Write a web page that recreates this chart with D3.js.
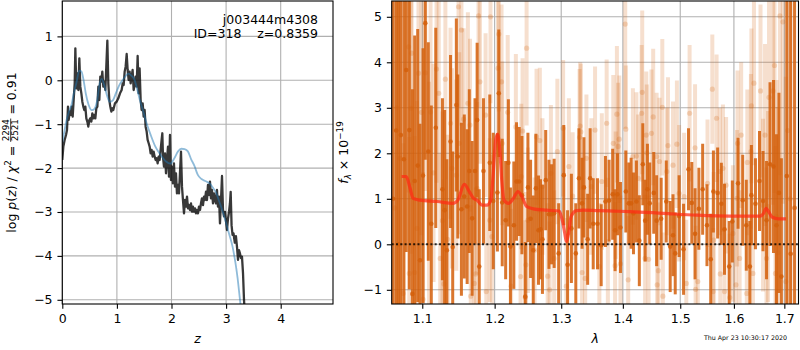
<!DOCTYPE html>
<html>
<head>
<meta charset="utf-8">
<script src="https://cdn.jsdelivr.net/npm/d3@7"></script>
<style>
  body { margin: 0; background: #fff; }
  svg { font-family: "DejaVu Sans", sans-serif; }
</style>
</head>
<body>
<svg id="fig" width="800" height="350"></svg>
<script>
// ---- p(z) panel data ----
const pzZ = [0.000,0.019,0.043,0.068,0.086,0.104,0.117,0.135,0.153,0.172,0.190,0.208,0.227,0.239,0.257,0.275,0.294,0.312,0.330,0.349,
  0.367,0.385,0.403,0.422,0.440,0.458,0.476,0.495,0.513,0.532,0.550,0.568,0.587,0.605,0.623,0.642,0.660,0.678,0.696,0.715,
  0.733,0.751,0.770,0.788,0.806,0.825,0.843,0.861,0.879,0.898,0.916,0.934,0.965,0.995,1.026,1.057,1.087,1.106,1.124,1.142,
  1.160,1.179,1.197,1.215,1.233,1.252,1.270,1.288,1.307,1.325,1.343,1.362,1.380,1.398,1.416,1.435,1.453,1.472,1.490,1.508,
  1.526,1.545,1.563,1.582,1.600,1.618,1.636,1.655,1.673,1.691,1.710,1.728,1.746,1.765,1.783,1.801,1.819,1.832,1.844,1.862,
  1.881,1.899,1.917,1.936,1.954,1.972,1.990,2.009,2.027,2.045,2.064,2.082,2.100,2.119,2.137,2.155,2.174,2.192,2.210,2.229,
  2.247,2.265,2.284,2.302,2.320,2.339,2.357,2.375,2.393,2.412,2.430,2.448,2.467,2.485,2.503,2.522,2.540,2.558,2.577,2.595,
  2.613,2.632,2.650,2.668,2.687,2.705,2.723,2.741,2.760,2.778,2.796,2.815,2.833,2.851,2.870,2.888,2.906,2.925,2.943,2.961,
  2.980,2.998,3.016,3.035,3.053,3.071,3.084,3.100,3.118,3.136,3.160,3.180,3.200,3.218,3.236,3.255,3.273,3.291,3.310,3.328,3.346];
const pzLog = [-1.815,-1.511,-1.359,-1.245,-1.131,-0.600,-0.904,-0.714,-0.790,-0.600,-0.828,-0.449,-0.069,0.728,-0.183,0.159,-0.221,0.500,-0.145,-0.297,
  -0.487,-0.600,-0.677,-0.600,-0.866,-0.942,-1.056,-0.904,-0.866,-0.942,-0.752,-0.866,-0.790,-0.866,-0.638,-0.600,-0.145,-0.449,0.083,-0.031,
  0.197,-0.145,-0.031,-0.221,0.311,0.903,-0.069,-0.449,-0.600,-0.714,-0.638,-0.677,-0.525,-0.487,-0.411,-0.297,-0.221,-0.069,-0.107,0.197,
  0.311,0.599,0.235,0.007,0.197,-0.069,0.083,0.235,-0.221,-0.107,0.083,-0.145,0.554,-0.297,0.273,-0.449,-0.677,-0.525,-0.828,-0.677,
  -1.056,-1.169,-1.359,-1.435,-1.511,-1.663,-1.587,-1.739,-1.625,-1.739,-1.815,-1.777,-1.891,-1.739,-1.815,-1.587,-1.359,-1.207,-1.739,-1.967,
  -1.663,-2.119,-1.815,-1.511,-2.195,-1.245,-2.271,-1.967,-2.347,-1.891,-2.423,-2.119,-2.575,-2.385,-2.575,-2.119,-1.625,-2.423,-2.727,-3.030,
  -2.727,-2.879,-2.651,-2.917,-2.841,-2.955,-2.803,-2.993,-2.879,-2.993,-2.917,-3.030,-2.955,-3.030,-2.879,-2.955,-2.803,-2.689,-2.841,-2.651,
  -2.727,-2.537,-2.727,-2.385,-2.613,-2.309,-2.689,-2.499,-2.803,-2.575,-2.727,-2.803,-2.499,-2.880,-2.650,-3.260,-2.750,-2.180,-2.950,-3.100,
  -3.000,-3.200,-3.410,-3.150,-3.000,-2.800,-2.540,-3.300,-3.520,-3.490,-3.700,-3.550,-3.800,-4.090,-3.870,-3.950,-4.050,-4.020,-4.400,-5.000,-5.400];
const smZ = [0,0.04,0.08,0.12,0.17,0.21,0.26,0.31,0.35,0.39,0.43,0.48,0.54,0.59,0.64,0.68,0.72,0.77,0.82,0.87,
  0.93,0.98,1.04,1.09,1.15,1.21,1.27,1.32,1.37,1.42,1.48,1.55,1.62,1.70,1.80,1.90,1.98,2.05,2.12,2.18,
  2.24,2.30,2.36,2.42,2.48,2.55,2.63,2.70,2.76,2.82,2.88,2.94,3.00,3.06,3.12,3.17,3.21,3.25,3.28];
const smLog = [-1.42,-1.15,-0.90,-0.72,-0.55,-0.30,-0.05,0.22,0.20,0.00,-0.30,-0.55,-0.68,-0.65,-0.45,-0.10,0.03,-0.12,-0.35,-0.49,
  -0.45,-0.30,-0.12,-0.02,0.08,0.15,0.10,0.02,-0.20,-0.45,-0.70,-1.00,-1.25,-1.50,-1.70,-1.85,-1.90,-1.78,-1.62,-1.56,
  -1.57,-1.62,-1.80,-1.95,-2.15,-2.25,-2.30,-2.35,-2.45,-2.57,-2.78,-3.00,-3.25,-3.52,-3.80,-4.15,-4.50,-4.95,-5.30];
const pzXTicks = [0, 1, 2, 3, 4];
const pzYTicks = [-5, -4, -3, -2, -1, 0, 1];

// ---- spectrum panel data ----
const darkLam = [1.062,1.066,1.069,1.072,1.076,1.079,1.083,1.087,1.090,1.094,1.097,1.101,1.104,1.108,1.112,1.118,1.127,1.130,1.133,1.138,
  1.141,1.146,1.148,1.153,1.157,1.161,1.164,1.168,1.172,1.175,1.178,1.184,1.193,1.198,
  1.204,1.206,1.211,1.216,1.220,1.223,1.228,1.232,1.236,1.240,1.245,1.249,1.253,1.257,1.261,1.265,1.268,1.271,1.276,1.281,
  1.285,1.289,1.296,1.304,1.310,1.316,1.323,1.328,1.333,1.336,1.342,1.346,1.351,
  1.358,1.364,1.371,1.377,1.383,1.387,1.391,1.396,1.405,1.410,1.414,1.418,1.423,1.428,1.434,1.438,1.442,1.446,1.453,1.458,
  1.466,1.475,1.482,1.487,1.491,1.498,1.506,1.515,1.521,1.527,1.534,
  1.541,1.549,1.556,1.561,1.569,1.576,1.582,1.591,1.597,1.608,1.617,1.624,1.631,1.634,1.642,1.650,1.657,1.664,1.671,1.678,
  1.684,1.689,1.694,1.705,1.713,1.721];
const darkFlux = [1.0,2.5,0.0,2.40,1.87,3.83,2.51,-1.09,1.39,1.73,-0.35,1.51,4.86,2.04,0.45,2.56,1.21,0.75,-0.13,2.26,
  -0.06,3.06,1.93,0.77,1.05,0.83,1.61,0.57,1.61,2.73,-0.49,1.61,1.79,0.95,
  1.14,3.32,0.92,0.53,1.79,-0.05,0.42,1.38,1.38,1.08,-1.15,1.25,0.56,-0.13,1.23,0.31,0.33,0.11,1.41,0.66,
  0.66,0.68,-0.20,1.52,-0.45,0.35,-0.20,1.45,0.90,1.25,0.11,1.45,0.45,
  0.45,-0.02,0.94,0.96,1.10,0.31,1.10,0.37,1.16,0.90,0.90,0.68,0.94,0.08,1.76,0.52,1.21,0.90,1.13,0.52,
  0.56,0.94,-0.05,0.20,-0.20,0.62,-0.11,1.65,0.91,0.23,0.78,
  1.21,0.42,-0.33,1.16,1.13,0.89,0.33,-0.49,0.50,1.34,0.97,0.42,-0.49,1.08,0.89,1.39,0.95,0.53,1.76,1.71,
  0.42,1.13,-0.71,1.5,-0.21,0.8];
const darkErr = [9,7,8,4.5,4.0,4.0,3.5,4.5,3.2,3.0,3.0,2.8,3.0,2.4,2.6,2.2,2.0,2.2,2.0,1.9,
  2.1,1.9,1.8,1.9,1.8,1.7,1.8,1.7,1.6,1.7,1.7,1.6,1.5,1.5,
  1.3,1.4,1.4,1.3,1.4,1.3,1.4,1.3,1.2,1.3,1.2,1.2,1.3,1.2,1.2,1.2,1.1,1.2,1.1,1.2,
  1.1,1.2,1.1,1.1,1.2,1.2,1.1,1.1,1.0,1.1,1.0,1.1,1.0,
  1.0,0.9,1.0,0.9,1.0,0.9,0.9,1.0,0.9,0.9,1.0,0.9,0.9,1.0,0.9,0.9,1.0,0.9,0.9,1.0,
  0.9,0.9,1.0,0.9,0.9,0.9,1.0,0.9,0.9,1.0,0.9,
  1.0,0.9,1.0,0.9,1.0,0.9,1.0,1.0,0.9,1.0,1.0,1.0,1.0,1.1,1.0,1.1,1.1,1.3,1.8,1.9,
  2.0,2.2,2.6,8,7,8];

const lightLam = [1.064,1.067,1.071,1.075,1.082,1.083,1.085,1.086,1.090,1.093,1.095,1.099,1.101,1.104,1.109,1.111,1.115,1.119,1.122,1.124,
  1.127,1.129,1.131,1.134,1.138,1.140,1.146,1.149,1.150,1.153,1.156,1.162,1.165,1.166,1.171,1.173,1.175,1.177,1.179,1.187,
  1.188,1.193,1.194,1.196,1.205,1.206,1.210,1.211,1.219,1.224,1.231,1.238,1.239,1.241,1.245,1.246,1.247,1.249,1.259,1.262,
  1.267,1.271,1.279,1.282,1.284,1.289,1.294,1.303,1.308,1.312,1.318,1.329,1.330,1.331,1.333,1.338,1.340,1.348,1.354,1.361,
  1.365,1.373,1.375,1.384,1.387,1.388,1.390,1.392,1.394,1.396,1.404,1.405,1.409,1.417,1.423,1.426,1.432,1.433,1.438,1.440,
  1.441,1.444,1.449,1.452,1.458,1.459,1.461,1.463,1.468,1.469,1.476,1.478,1.487,1.494,1.498,1.507,1.511,1.517,1.527,1.528,
  1.532,1.550,1.559,1.5605,1.5615,1.567,1.573,1.574,1.579,1.582,1.585,1.592,1.598,1.604,1.606,1.607,1.611,1.614,1.625,1.626,
  1.633,1.634,1.637,1.639,1.652,1.657,1.661,1.664,1.667,1.669,1.677,1.680,1.682,1.684,1.687,1.691,1.697,1.703,1.707,1.712];
const lightFlux = [0.8,3.0,1.89,-1.08,4.34,-0.64,2.99,4.2,-0.62,0.35,3.76,2.9,-1.21,3.77,0.97,2.91,1.57,3.85,3.32,-0.31,
  0.52,-0.87,3.63,0.11,2.66,1.67,1.52,5.22,2.22,4.71,2.75,3.1,2.62,-1.14,-0.86,-0.65,1.23,5.02,3.57,2.84,
  -1.04,0.53,5.0,0.17,3.87,4.62,3.57,2.22,2.9,-0.92,2.58,-0.71,1.49,2.49,-1.17,-0.45,4.31,0.53,-0.13,2.36,
  2.28,1.27,-0.7,-1.0,1.56,-0.31,2.04,2.55,-0.92,1.71,1.06,2.35,2.6,2.47,-0.62,-0.75,1.89,1.27,2.51,-0.49,
  1.38,2.66,0.06,2.22,-0.47,1.08,2.86,2.15,2.31,-0.43,4.84,2.53,-0.78,1.93,1.94,1.45,2.88,3.34,-0.31,2.4,
  2.01,-0.33,2.44,2.8,1.93,-0.89,-0.58,1.82,3.01,-1.14,1.6,2.17,1.74,2.2,1.12,1.05,-0.86,2.88,2.12,-0.99,
  -0.82,1.34,3.41,-1.04,0.09,2.77,1.6,-0.65,1.67,-1.04,1.3,-1.17,0.24,-0.89,1.01,2.22,-0.31,2.4,-1.08,1.8,
  2.04,3.04,-0.64,3.54,3.37,0.86,2.4,-0.31,0.83,3.23,3.37,3.93,-0.64,0.61,-0.18,5.02,4.89,-0.82,2.5,1.0];
const lightErr = [6,6,3.5,3.3,3.2,3.0,3.2,2.9,3.0,2.8,2.8,2.7,2.8,2.6,2.6,2.5,2.4,2.5,2.4,2.3,
  2.4,2.3,2.2,2.3,2.1,2.2,2.1,2.2,2.0,2.1,2.0,2.0,1.9,2.0,1.9,1.9,1.9,2.0,1.8,1.8,
  1.9,1.8,1.9,1.8,1.8,1.7,1.7,1.8,1.7,1.7,1.6,1.7,1.6,1.6,1.7,1.6,1.7,1.6,1.6,1.5,
  1.6,1.5,1.6,1.5,1.5,1.5,1.6,1.5,1.5,1.5,1.4,1.5,1.4,1.5,1.4,1.5,1.4,1.5,1.4,1.4,
  1.5,1.4,1.4,1.5,1.4,1.4,1.5,1.4,1.4,1.5,2.3,1.4,1.4,1.5,1.4,1.4,1.5,1.8,1.4,1.4,
  1.5,1.4,1.4,1.5,1.4,1.4,1.5,1.4,1.5,1.4,1.4,1.5,1.4,1.4,1.5,1.4,1.4,1.5,1.4,1.4,
  1.5,1.4,1.2,1.4,1.5,1.4,1.4,1.5,1.4,1.4,1.5,1.4,1.5,1.5,1.5,1.6,1.5,1.6,1.6,1.6,
  1.7,1.7,1.7,1.8,1.9,1.9,2.0,2.0,2.1,2.2,2.5,2.8,2.8,3.0,3.2,3.5,4,4.5,6,7];

const modelLam = [1.073,1.079,1.084,1.088,1.097,1.120,1.141,1.148,1.157,1.164,1.170,1.175,1.182,1.189,1.1945,1.198,1.2015,1.2044,1.2078,1.2103,
  1.2137,1.220,1.2274,1.234,1.240,1.247,1.257,1.277,1.297,1.3016,1.3056,1.3082,1.3115,1.3155,1.324,1.335,1.357,1.384,1.412,1.470,
  1.530,1.592,1.651,1.658,1.663,1.668,1.675,1.688,1.7035];
const modelFlux = [1.49,1.49,1.23,1.01,0.97,0.94,0.90,0.97,1.32,1.16,1.01,0.97,0.86,0.86,0.97,1.56,2.29,2.42,2.0,1.41,
  0.97,0.90,1.01,1.16,1.05,0.83,0.78,0.75,0.73,0.53,0.24,0.06,0.24,0.61,0.74,0.75,0.74,0.73,0.72,0.68,
  0.64,0.62,0.62,0.68,0.79,0.72,0.60,0.56,0.56];
const spXTicks = [1.1, 1.2, 1.3, 1.4, 1.5, 1.6, 1.7];
const spYTicks = [-1, 0, 1, 2, 3, 4, 5];

const objName = "j003444m4308";
const objInfo = "ID=318    z=0.8359";
const stamp = "Thu Apr 23 10:30:17 2020";

// ---- layout ----
const svg = d3.select('#fig');
const fs = 12.5;
const tick = 4.86;
const pzBox = { left: 62.3, right: 333, top: 1, bottom: 304 };
const spBox = { left: 391.7, right: 798.5, top: 1, bottom: 304 };

const xz = d3.scaleLinear().domain([0, 4.958]).range([pzBox.left, pzBox.right]);
const yz = d3.scaleLinear().domain([-5.096, 1.806]).range([pzBox.bottom, pzBox.top]);
const xl = d3.scaleLog().domain([1.0603, 1.7292]).range([spBox.left, spBox.right]);
const yf = d3.scaleLinear().domain([-1.312, 5.347]).range([spBox.bottom, spBox.top]);

function clip(id, box) {
  svg.append('clipPath').attr('id', id).append('rect')
    .attr('x', box.left).attr('y', box.top)
    .attr('width', box.right - box.left).attr('height', box.bottom - box.top);
}
clip('clipPz', pzBox);
clip('clipSp', spBox);

function grid(box, x, y, xt, yt) {
  const g = svg.append('g').attr('stroke', '#b0b0b0').attr('stroke-width', 1.1);
  g.selectAll('.gx').data(xt).join('line')
    .attr('x1', d => x(d)).attr('x2', d => x(d)).attr('y1', box.top).attr('y2', box.bottom);
  g.selectAll('.gy').data(yt).join('line')
    .attr('y1', d => y(d)).attr('y2', d => y(d)).attr('x1', box.left).attr('x2', box.right);
}

function axes(box, x, y, xt, yt, xfmt) {
  const ax = svg.append('g').attr('transform', `translate(0,${box.bottom})`)
    .call(d3.axisBottom(x).tickValues(xt).tickFormat(xfmt).tickSize(tick).tickPadding(4.86).tickSizeOuter(0));
  const ay = svg.append('g').attr('transform', `translate(${box.left},0)`)
    .call(d3.axisLeft(y).tickValues(yt).tickFormat(d3.format('d')).tickSize(tick).tickPadding(4.86).tickSizeOuter(0));
  [ax, ay].forEach(a => {
    a.select('.domain').remove();
    a.attr('font-family', null).attr('font-size', null);
    a.selectAll('line').attr('stroke', '#000').attr('stroke-width', 1.1);
    a.selectAll('text').attr('fill', '#000').style('font-size', fs + 'px');
  });
  svg.append('rect').attr('x', box.left).attr('y', box.top)
    .attr('width', box.right - box.left).attr('height', box.bottom - box.top)
    .attr('fill', 'none').attr('stroke', '#000').attr('stroke-width', 1.1);
}

// ---- left panel: p(z) ----
grid(pzBox, xz, yz, pzXTicks, pzYTicks);
const pzG = svg.append('g').attr('clip-path', 'url(#clipPz)');
const pzLine = d3.line().x((d, i) => xz(pzZ[i])).y(d => yz(d));
pzG.append('path').attr('d', pzLine(pzLog))
  .attr('fill', 'none').attr('stroke', '#000').attr('stroke-opacity', 0.78)
  .attr('stroke-width', 2.3).attr('stroke-linejoin', 'round');
const smLine = d3.line().x((d, i) => xz(smZ[i])).y(d => yz(d)).curve(d3.curveMonotoneX);
pzG.append('path').attr('d', smLine(smLog))
  .attr('fill', 'none').attr('stroke', '#1f77b4').attr('stroke-opacity', 0.5)
  .attr('stroke-width', 1.8);
axes(pzBox, xz, yz, pzXTicks, pzYTicks, d3.format('d'));

svg.append('text').attr('x', 318).attr('y', 24).attr('text-anchor', 'end')
  .style('font-size', fs + 'px').text(objName);
svg.append('text').attr('x', 318).attr('y', 38).attr('text-anchor', 'end')
  .style('font-size', fs + 'px').style('white-space', 'pre').text(objInfo);

// ---- right panel: spectrum ----
grid(spBox, xl, yf, spXTicks, spYTicks);
const spG = svg.append('g').attr('clip-path', 'url(#clipSp)');
const orange = '#d35f0a';

const lightIdx = d3.range(lightLam.length);
spG.append('g').selectAll('line').data(lightIdx).join('line')
  .attr('x1', i => xl(lightLam[i])).attr('x2', i => xl(lightLam[i]))
  .attr('y1', i => yf(lightFlux[i] - lightErr[i])).attr('y2', i => yf(lightFlux[i] + lightErr[i]))
  .attr('stroke', orange).attr('stroke-opacity', 0.2).attr('stroke-width', 4);
spG.append('g').selectAll('circle').data(lightIdx).join('circle')
  .attr('cx', i => xl(lightLam[i])).attr('cy', i => yf(lightFlux[i])).attr('r', 2.6)
  .attr('fill', orange).attr('fill-opacity', 0.22);

const darkIdx = d3.range(darkLam.length);
spG.append('g').selectAll('line').data(darkIdx).join('line')
  .attr('x1', i => xl(darkLam[i])).attr('x2', i => xl(darkLam[i]))
  .attr('y1', i => yf(darkFlux[i] - darkErr[i])).attr('y2', i => yf(darkFlux[i] + darkErr[i]))
  .attr('stroke', orange).attr('stroke-opacity', 0.85).attr('stroke-width', 3);
spG.append('g').selectAll('circle').data(darkIdx).join('circle')
  .attr('cx', i => xl(darkLam[i])).attr('cy', i => yf(darkFlux[i])).attr('r', 2.3)
  .attr('fill', orange).attr('fill-opacity', 0.85);

const modelLine = d3.line().x((d, i) => xl(modelLam[i])).y(d => yf(d)).curve(d3.curveMonotoneX);
spG.append('path').attr('d', modelLine(modelFlux))
  .attr('fill', 'none').attr('stroke', '#ff2a14').attr('stroke-opacity', 0.72)
  .attr('stroke-width', 3.2).attr('stroke-linejoin', 'round');

spG.append('line').attr('x1', spBox.left).attr('x2', spBox.right)
  .attr('y1', yf(0)).attr('y2', yf(0))
  .attr('stroke', '#000').attr('stroke-opacity', 0.8).attr('stroke-width', 2)
  .attr('stroke-dasharray', '2,2.3');

axes(spBox, xl, yf, spXTicks, spYTicks, d3.format('.1f'));

// ---- axis labels (mathtext-like) ----
function mathText(g, pieces) {
  let x = 0;
  pieces.forEach(p => {
    if (p.frac) {
      const sz = fs * 0.7;
      const num = g.append('text').style('font-size', sz + 'px').text(p.frac[0]);
      const den = g.append('text').style('font-size', sz + 'px').text(p.frac[1]);
      const w = Math.max(num.node().getComputedTextLength(), den.node().getComputedTextLength()) + 1;
      num.attr('x', x + w / 2).attr('y', -6.2).attr('text-anchor', 'middle');
      den.attr('x', x + w / 2).attr('y', 2.6).attr('text-anchor', 'middle');
      g.append('line').attr('x1', x).attr('x2', x + w).attr('y1', -4.8).attr('y2', -4.8)
        .attr('stroke', '#000').attr('stroke-width', 0.8);
      x += w;
    } else {
      const t = g.append('text').attr('x', x).attr('y', p.dy || 0)
        .style('font-size', (p.size || fs) + 'px').style('white-space', 'pre')
        .attr('font-style', p.it ? 'italic' : null).text(p.t);
      x += t.node().getComputedTextLength();
    }
  });
  return x;
}

function yLabel(cx, cy, pieces) {
  const outer = svg.append('g').attr('transform', `translate(${cx},${cy}) rotate(-90)`);
  const inner = outer.append('g');
  const w = mathText(inner, pieces);
  inner.attr('transform', `translate(${-w / 2},0)`);
}

yLabel(15.5, 152.5, [
  { t: 'log ' }, { t: 'p', it: true }, { t: '(' }, { t: 'z', it: true }, { t: ')' },
  { t: ' / ' }, { t: 'χ', it: true }, { t: '2', size: fs * 0.7, dy: -5 }, { t: ' = ' },
  { frac: ['2294', '2521'] }, { t: ' = 0.91' }
]);
yLabel(348, 152.5, [
  { t: 'f', it: true }, { t: 'λ', it: true, size: fs * 0.7, dy: 2.5 }, { t: ' × 10' },
  { t: '−19', size: fs * 0.7, dy: -5 }
]);

svg.append('text').attr('x', (pzBox.left + pzBox.right) / 2).attr('y', 343)
  .attr('text-anchor', 'middle').attr('font-style', 'italic').style('font-size', fs + 'px').text('z');
svg.append('text').attr('x', (spBox.left + spBox.right) / 2).attr('y', 343)
  .attr('text-anchor', 'middle').attr('font-style', 'italic').style('font-size', fs + 'px').text('λ');

svg.append('text').attr('x', 787).attr('y', 340).attr('text-anchor', 'end')
  .style('font-size', '6.3px').text(stamp);
</script>
</body>
</html>
